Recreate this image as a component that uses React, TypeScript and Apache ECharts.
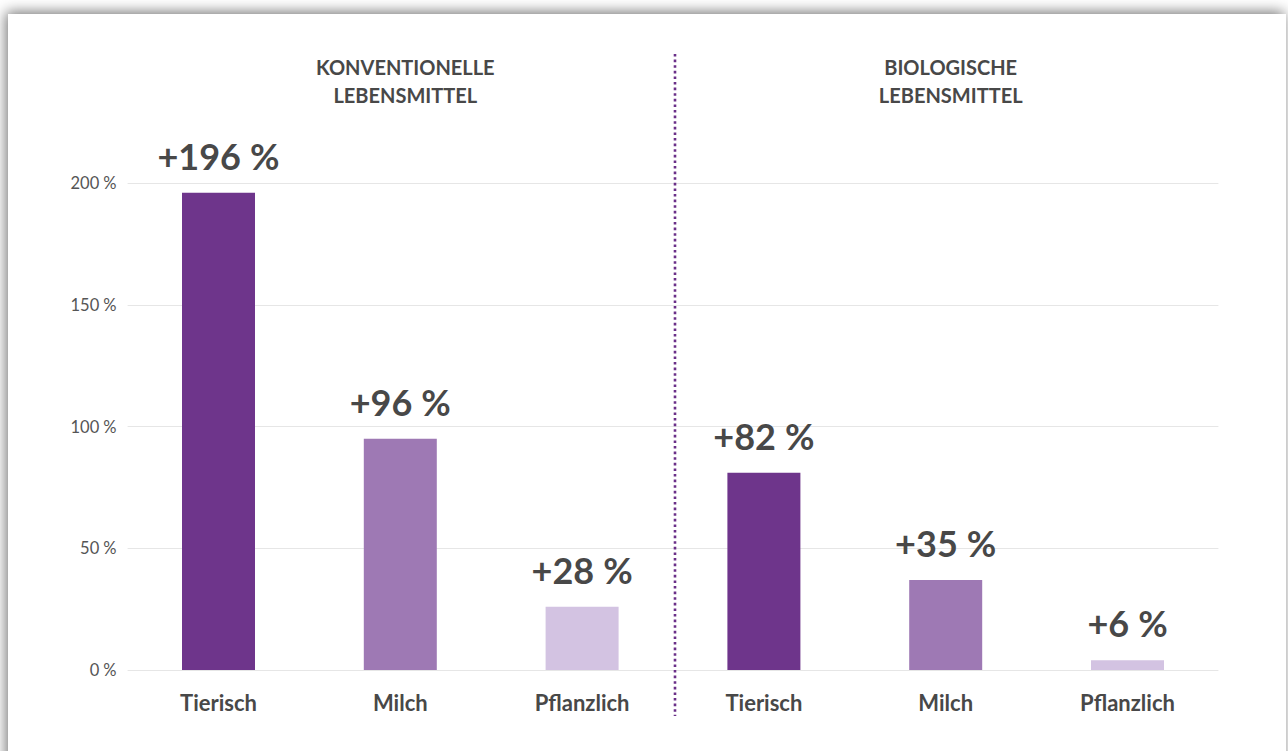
import React, { useEffect, useRef } from "react";
import * as echarts from "echarts";

const categories = ["Tierisch", "Milch", "Pflanzlich", "Tierisch", "Milch", "Pflanzlich"];
const values = [196, 95, 26, 81, 37, 4];
const valueLabels = ["+196 %", "+96 %", "+28 %", "+82 %", "+35 %", "+6 %"];
const barColors = ["#6e358b", "#9e79b4", "#d3c3e2", "#6e358b", "#9e79b4", "#d3c3e2"];
const groupTitles = ["KONVENTIONELLE\nLEBENSMITTEL", "BIOLOGISCHE\nLEBENSMITTEL"];
const yTicks = [0, 50, 100, 150, 200];

const TEXT = "#484848";
const FONT = "Lato, 'Open Sans', sans-serif";

export default function App() {
  const ref = useRef<HTMLDivElement>(null);
  useEffect(() => {
    if (!ref.current) return;
    const chart = echarts.init(ref.current, undefined, { renderer: "svg" });
    const gridLeft = 127.6;
    const gridRight = 69.6;
    const width = 1288;
    const catW = (width - gridLeft - gridRight) / categories.length;
    const titleX = [gridLeft + catW * 1.5, gridLeft + catW * 4.5];
    chart.setOption({
      animation: false,
      backgroundColor: "#ffffff",
      textStyle: { fontFamily: FONT },
      title: groupTitles.map((t, i) => ({
        text: t,
        left: titleX[i],
        top: 48,
        textAlign: "center",
        textStyle: {
          fontFamily: FONT,
          fontSize: 20,
          fontWeight: "bold",
          color: TEXT,
          lineHeight: 28,
        },
      })),
      graphic: [
        {
          type: "rect",
          z: -10,
          silent: true,
          shape: { x: 8, y: 14, width: 1278, height: 760 },
          style: {
            fill: "#ffffff",
            shadowBlur: 14,
            shadowColor: "rgba(0,0,0,0.55)",
            shadowOffsetX: -2,
            shadowOffsetY: -2,
          },
        },
        {
          type: "line",
          z: 5,
          silent: true,
          shape: { x1: 675, y1: 54, x2: 675, y2: 716 },
          style: { stroke: "#6a2f88", lineWidth: 2.6, lineDash: [2.6, 3] },
        },
      ],
      grid: { left: gridLeft, right: gridRight, top: 183, bottom: 81, containLabel: false },
      xAxis: {
        type: "category",
        data: categories,
        axisLine: { show: false },
        axisTick: { show: false },
        axisLabel: {
          fontFamily: FONT,
          fontSize: 22,
          fontWeight: "bold",
          color: TEXT,
          margin: 21,
          interval: 0,
        },
      },
      yAxis: {
        type: "value",
        min: 0,
        max: 200,
        interval: 50,
        axisLine: { show: false },
        axisTick: { show: false },
        splitLine: { lineStyle: { color: "#e6e6e6", width: 1 } },
        axisLabel: {
          fontFamily: FONT,
          fontSize: 16.5,
          color: "#555555",
          margin: 11,
          formatter: (v: number) => (yTicks.includes(v) ? `${v}\u202F%` : ""),
        },
      },
      series: [
        {
          type: "bar",
          barWidth: 73,
          data: values.map((v, i) => ({
            value: v,
            itemStyle: { color: barColors[i] },
            label: { formatter: valueLabels[i].replace(" ", "\u202F") },
          })),
          label: {
            show: true,
            position: "top",
            distance: 19,
            fontFamily: FONT,
            fontSize: 36,
            fontWeight: "bold",
            color: TEXT,
          },
        },
      ],
    });
    return () => chart.dispose();
  }, []);
  return (
    <div
      ref={ref}
      style={{ position: "fixed", left: 0, top: 0, width: 1288, height: 751 }}
    />
  );
}
